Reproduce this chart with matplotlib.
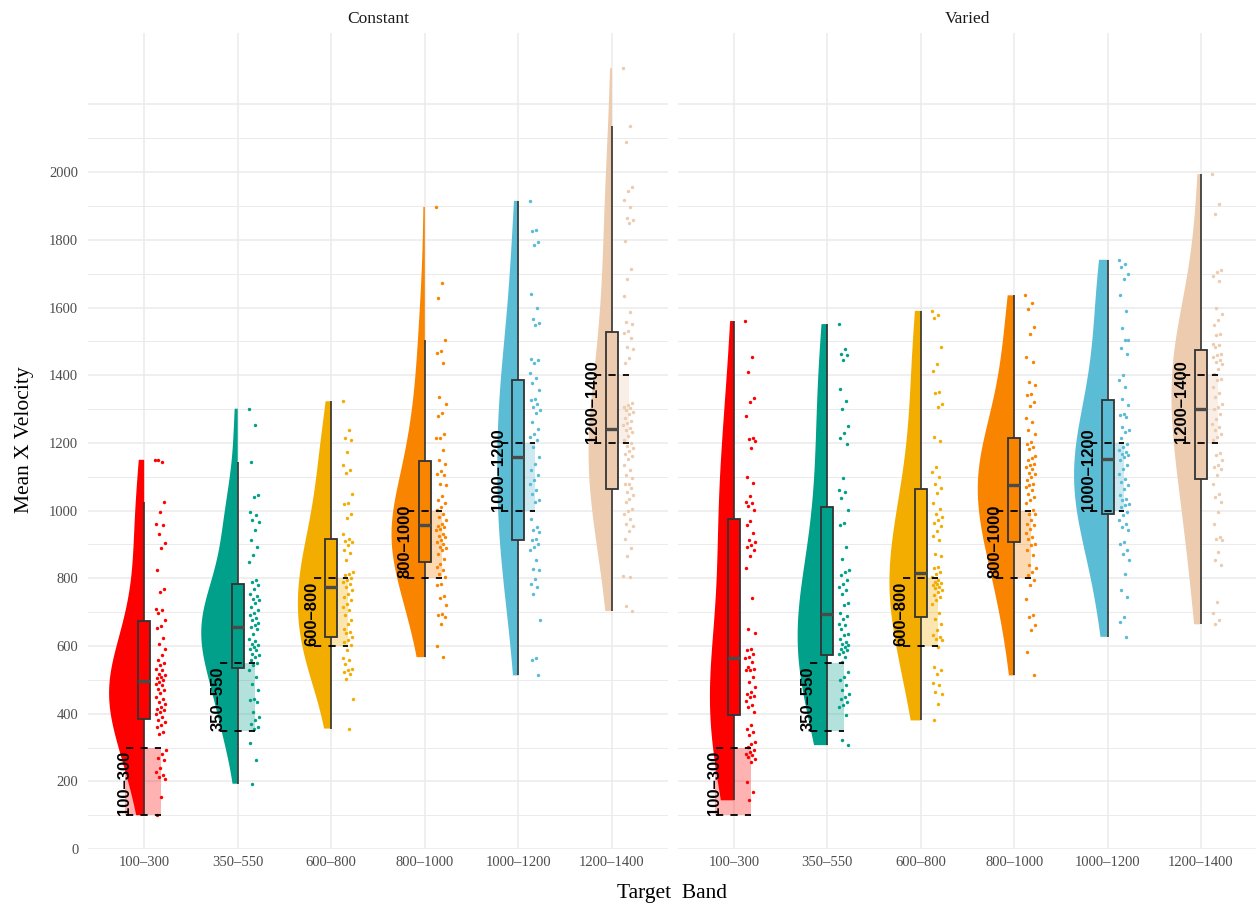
import numpy as np
import matplotlib.pyplot as plt
from matplotlib.patches import Rectangle

bands = ["100–300", "350–550", "600–800", "800–1000", "1000–1200", "1200–1400"]
band_low = [100, 350, 600, 800, 1000, 1200]
band_high = [300, 550, 800, 1000, 1200, 1400]
colors = ["#FF0000", "#00A08A", "#F2AD00", "#F98400", "#5BBCD6", "#ECCBAE"]
panels = ["Constant", "Varied"]

# mean x velocity per subject
constant_100_300 = [1150, 1145, 1148, 1026, 996, 960, 957, 932, 905, 890, 824, 767, 760, 710, 706,
                    696, 678, 659, 652, 625, 607, 592, 573, 558, 550, 543, 533, 528, 518, 514, 509,
                    506, 499, 494, 489, 484, 474, 469, 460, 450, 442, 435, 430, 420, 415, 410, 405,
                    400, 391, 381, 376, 366, 361, 346, 341, 292, 282, 268, 263, 238, 228, 218, 213,
                    208, 154, 100]
constant_350_550 = [1301, 1252, 1144, 1045, 1040, 996, 986, 971, 966, 944, 914, 893, 868, 848, 794,
                    789, 779, 769, 755, 747, 740, 735, 727, 715, 705, 696, 691, 684, 676, 668, 661,
                    656, 651, 636, 622, 615, 607, 602, 597, 592, 587, 577, 572, 567, 558, 550, 543,
                    528, 508, 489, 469, 444, 440, 435, 405, 390, 380, 370, 361, 356, 312, 262, 193]
constant_600_800 = [1323, 1239, 1213, 1208, 1173, 1134, 1119, 1111, 1048, 1023, 1019, 989, 979, 930,
                    917, 910, 908, 898, 883, 875, 853, 819, 814, 809, 802, 796, 789, 784, 775, 765,
                    755, 745, 735, 725, 715, 706, 691, 676, 666, 651, 642, 637, 627, 617, 612, 602,
                    587, 563, 558, 548, 533, 528, 523, 518, 501, 442, 356]
constant_800_1000 = [1897, 1671, 1628, 1505, 1472, 1466, 1436, 1336, 1314, 1287, 1279, 1227, 1215,
                     1213, 1180, 1149, 1139, 1116, 1109, 1104, 1080, 1075, 1042, 1030, 1021, 1011,
                     1001, 991, 981, 971, 961, 955, 952, 945, 942, 932, 925, 922, 912, 907, 902, 893,
                     890, 883, 873, 858, 843, 833, 824, 814, 804, 784, 779, 747, 743, 720, 695, 691,
                     686, 666, 599, 567]
constant_1000_1200 = [1915, 1828, 1825, 1794, 1784, 1641, 1599, 1567, 1554, 1548, 1449, 1444, 1436,
                      1407, 1392, 1377, 1355, 1331, 1326, 1316, 1306, 1296, 1287, 1262, 1242, 1227,
                      1216, 1210, 1188, 1158, 1139, 1119, 1104, 1090, 1080, 1060, 1050, 1030, 1026,
                      976, 952, 942, 937, 917, 912, 902, 893, 883, 853, 828, 823, 799, 784, 774, 755,
                      676, 563, 558, 513]
constant_1200_1400 = [2307, 2136, 2088, 1957, 1943, 1917, 1898, 1865, 1858, 1850, 1797, 1713, 1683,
                      1633, 1587, 1558, 1551, 1532, 1526, 1510, 1483, 1478, 1451, 1435, 1318, 1312,
                      1307, 1302, 1296, 1290, 1286, 1275, 1264, 1260, 1253, 1245, 1237, 1232, 1220,
                      1210, 1200, 1190, 1184, 1175, 1168, 1160, 1152, 1136, 1120, 1104, 1095, 1080,
                      1080, 1066, 1056, 1045, 1034, 1024, 1005, 1000, 991, 975, 960, 954, 940, 917,
                      890, 866, 806, 804, 719, 703]

varied_100_300 = [1560, 1454, 1410, 1334, 1321, 1279, 1215, 1211, 1206, 1186, 1098, 1082, 1042, 1026,
                  1021, 1013, 1001, 968, 957, 934, 912, 908, 898, 891, 885, 865, 829, 743, 651, 637,
                  592, 587, 577, 568, 563, 553, 538, 533, 530, 528, 509, 494, 479, 464, 459, 451, 449,
                  438, 425, 420, 405, 366, 356, 346, 336, 316, 311, 302, 292, 287, 282, 277, 272, 267,
                  257, 198, 169, 144]
varied_350_550 = [1551, 1476, 1464, 1459, 1446, 1358, 1324, 1301, 1249, 1230, 1215, 1196, 1095, 1060,
                  1055, 1037, 1001, 962, 957, 891, 858, 824, 819, 809, 794, 784, 774, 765, 755, 727,
                  720, 696, 690, 680, 666, 661, 651, 635, 632, 622, 612, 607, 602, 597, 592, 587, 582,
                  577, 568, 553, 523, 509, 499, 484, 469, 459, 449, 444, 435, 425, 420, 395, 321, 307]
varied_600_800 = [1590, 1577, 1570, 1484, 1434, 1413, 1351, 1346, 1316, 1306, 1216, 1206, 1129, 1114,
                  1099, 1080, 1068, 1052, 1021, 1006, 991, 981, 973, 962, 954, 940, 924, 912, 873, 865,
                  833, 829, 820, 814, 805, 794, 790, 786, 784, 779, 774, 770, 766, 760, 750, 745, 735,
                  725, 698, 681, 666, 646, 632, 627, 622, 617, 597, 538, 528, 518, 491, 484, 464, 459,
                  430, 380]
varied_800_1000 = [1636, 1614, 1597, 1541, 1523, 1454, 1439, 1380, 1370, 1344, 1341, 1321, 1308, 1275,
                   1262, 1239, 1227, 1203, 1196, 1188, 1183, 1160, 1154, 1149, 1139, 1134, 1129, 1124,
                   1111, 1107, 1099, 1090, 1080, 1075, 1070, 1060, 1048, 1040, 1030, 1021, 1001, 990,
                   989, 971, 960, 957, 945, 934, 922, 915, 902, 897, 883, 870, 838, 829, 819, 809, 794,
                   779, 740, 691, 686, 661, 648, 582, 513]
varied_1000_1200 = [1741, 1730, 1720, 1700, 1685, 1636, 1590, 1538, 1505, 1503, 1479, 1464, 1400, 1385,
                    1365, 1331, 1311, 1286, 1282, 1277, 1247, 1237, 1232, 1213, 1198, 1188, 1178, 1173,
                    1168, 1163, 1158, 1148, 1134, 1124, 1109, 1094, 1085, 1075, 1065, 1045, 1035, 1030,
                    1020, 1016, 1011, 996, 986, 971, 961, 952, 942, 907, 902, 883, 873, 853, 814, 764,
                    745, 686, 671, 627]
varied_1200_1400 = [1994, 1905, 1875, 1712, 1705, 1692, 1678, 1600, 1580, 1562, 1547, 1523, 1518, 1493,
                    1488, 1483, 1464, 1459, 1454, 1446, 1439, 1434, 1419, 1405, 1390, 1385, 1365, 1346,
                    1336, 1316, 1306, 1301, 1286, 1272, 1257, 1247, 1237, 1227, 1218, 1208, 1170, 1163,
                    1148, 1134, 1129, 1124, 1104, 1080, 1050, 1040, 1025, 996, 961, 922, 917, 912, 878,
                    853, 838, 730, 696, 678, 664]

data = {
    "Constant": [constant_100_300, constant_350_550, constant_600_800,
                 constant_800_1000, constant_1000_1200, constant_1200_1400],
    "Varied": [varied_100_300, varied_350_550, varied_600_800,
               varied_800_1000, varied_1000_1200, varied_1200_1400],
}


def density(vals, grid, adjust=1.5):
    # gaussian kde, bandwidth like R's bw.nrd0 (smoothed a bit more)
    n = len(vals)
    q75, q25 = np.percentile(vals, [75, 25])
    bw = adjust * 0.9 * min(np.std(vals, ddof=1), (q75 - q25) / 1.34) * n ** -0.2
    z = (grid[:, None] - vals[None, :]) / bw
    return np.exp(-0.5 * z ** 2).sum(axis=1) / (n * bw * np.sqrt(2 * np.pi))


plt.rcParams['font.family'] = ['Liberation Serif', 'DejaVu Serif']

fig = plt.figure(figsize=(12.56, 9.07), dpi=100)
ax_left = fig.add_axes([0.0701, 0.0639, 0.4618, 0.8997])
ax_right = fig.add_axes([0.5398, 0.0639, 0.4610, 0.8997])

grid_col = "#EBEBEB"
ytop = 2411

for ax, panel in zip([ax_left, ax_right], panels):
    groups = [np.array(g, dtype=float) for g in data[panel]]

    # densities first, so violins share one area scale in the panel
    dens = []
    for vals in groups:
        yy = np.linspace(vals.min(), vals.max(), 512)
        dens.append((yy, density(vals, yy)))
    dmax = max(d.max() for _, d in dens)

    for v in range(0, 2300, 100):
        ax.axhline(v, color=grid_col, lw=1.1 if v % 200 == 0 else 0.7, zorder=0)

    for i, vals in enumerate(groups):
        c = i + 1
        col = colors[i]
        lo, hi = band_low[i], band_high[i]
        ax.axvline(c, color=grid_col, lw=1.1, zorder=0)

        # target band
        ax.add_patch(Rectangle((c - 0.2, lo), 0.38, hi - lo, facecolor=col, alpha=0.3,
                               edgecolor='none', zorder=1))

        # half violin on the left
        yy, d = dens[i]
        ax.fill_betweenx(yy, c - d / dmax * 0.39, c, facecolor=col, edgecolor='none', zorder=2)

        # box plot
        q1, med, q3 = np.percentile(vals, [25, 50, 75])
        iqr = q3 - q1
        w_hi = vals[vals <= q3 + 1.5 * iqr].max()
        w_lo = vals[vals >= q1 - 1.5 * iqr].min()
        ax.plot([c, c], [q3, w_hi], color="#333333", lw=1.2, zorder=2.5, solid_capstyle='butt')
        ax.plot([c, c], [w_lo, q1], color="#333333", lw=1.2, zorder=2.5, solid_capstyle='butt')
        ax.add_patch(Rectangle((c - 0.065, q1), 0.13, q3 - q1, facecolor=col,
                               edgecolor="#333333", lw=1.3, zorder=3))
        ax.plot([c - 0.065, c + 0.065], [med, med], color="#4A4A4A", lw=2.4, zorder=3.5,
                solid_capstyle='butt')

        # jittered points to the right
        offs = (np.arange(len(vals)) * 0.6180339887) % 1.0
        ax.scatter(c + 0.12 + 0.11 * offs, vals, s=6, color=col, linewidths=0, zorder=4)

        # dashed band edges + label
        for yv in (lo, hi):
            ax.plot([c - 0.19, c + 0.18], [yv, yv], color="black", lw=1.3,
                    linestyle=(0, (4, 4)), zorder=5)
        ax.text(c - 0.16, lo, bands[i], rotation=90, rotation_mode='anchor', ha='left',
                va='baseline', fontsize=12, fontweight='bold', family=['Liberation Sans'],
                color="black", zorder=6)

    ax.set_xlim(0.4, 6.6)
    ax.set_ylim(0, ytop)
    ax.set_xticks(range(1, 7))
    ax.set_xticklabels(bands, fontsize=10.5, color="#4D4D4D")
    ax.set_yticks(range(0, 2001, 200))
    if panel == "Constant":
        ax.set_yticklabels([str(v) for v in range(0, 2001, 200)], fontsize=10.5, color="#4D4D4D")
    else:
        ax.set_yticklabels([])
    ax.tick_params(length=0, pad=5)
    ax.tick_params(axis='y', pad=7)
    for s in ax.spines.values():
        s.set_visible(False)
    ax.set_title(panel, fontsize=12.5, color="#1A1A1A", pad=7)

fig.text(0.535, 0.004, "Target  Band", fontsize=15.5, ha='center', va='bottom')
fig.text(0.012, 0.515, "Mean X Velocity", fontsize=15.5, rotation=90, ha='left', va='center')

plt.savefig("out.png", dpi=100)
